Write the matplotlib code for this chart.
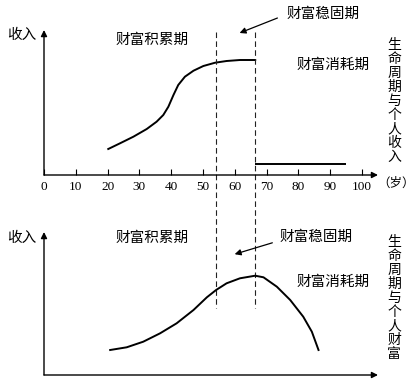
import matplotlib
matplotlib.use("Agg")
import matplotlib.pyplot as plt
from matplotlib.patches import FancyArrowPatch

plt.rcParams["font.family"] = ["Noto Sans CJK SC", "DejaVu Sans"]

# top panel: income over the life cycle
income_age = [20.2, 23.9, 28.1, 32.3, 35.4, 37.5, 39.1, 40.7, 42.2, 44.3,
              47.0, 50.1, 53.8, 57.4, 61.6, 66.4]
income_val = [26, 31.7, 38.3, 46, 53.3, 60, 68.3, 80, 90, 98.3,
              104.3, 109, 112.3, 114, 115, 115]
pension_age = [66.4, 95]
pension_val = [10.7, 10.7]

# bottom panel: wealth over the life cycle
wealth_age = [20.8, 26.0, 31.2, 36.5, 41.7, 47.0, 51.2, 54.1, 57.4, 61.6,
              66.4, 69.0, 73.2, 77.4, 81.5, 84.2, 86.3]
wealth_val = [25, 27.7, 33.3, 41.7, 51.7, 65, 77.7, 85, 91.7, 96.7,
              99.3, 97.7, 88.3, 75, 58.3, 43.3, 25]

phase_bounds = [54, 66.4]
age_ticks = list(range(0, 101, 10))

W, H = 415, 385
fig = plt.figure(figsize=(W / 100, H / 100), dpi=100)


def px(x, y):
    return x / W, 1 - y / H


def make_axes(x0, y_axis, y_top, ymax):
    ax = fig.add_axes([x0 / W, (H - y_axis) / H, 334 / W, (y_axis - y_top) / H])
    ax.set_xlim(0, 105)
    ax.set_ylim(0, ymax)
    ax.patch.set_visible(False)
    for s in ax.spines.values():
        s.set_visible(False)
    ax.set_yticks([])
    arrow = dict(arrowstyle="-|>", lw=1.0, color="black", mutation_scale=9,
                 shrinkA=0, shrinkB=0)
    ax.annotate("", xy=(1, 0), xytext=(0, 0), xycoords="axes fraction",
                arrowprops=arrow, annotation_clip=False)
    ax.annotate("", xy=(0, 1), xytext=(0, 0), xycoords="axes fraction",
                arrowprops=arrow, annotation_clip=False)
    return ax


ax1 = make_axes(44, 175, 30, 145)
ax2 = make_axes(44, 375, 232, 143)

ax1.plot(income_age, income_val, color="black", lw=1.4, solid_joinstyle="round")
ax1.plot(pension_age, pension_val, color="black", lw=1.4, solid_capstyle="butt")
ax2.plot(wealth_age, wealth_val, color="black", lw=1.4, solid_joinstyle="round")

ax1.set_xticks(age_ticks)
ax1.set_xticklabels([str(t) for t in age_ticks], family="Liberation Serif",
                    fontsize=9.5)
ax1.tick_params(axis="x", direction="in", length=4, width=0.8, pad=4)
ax2.set_xticks([])

for b in phase_bounds:
    ax1.plot([b, b], [143, -133], color="#222222", lw=0.8,
             linestyle=(0, (5, 3)), clip_on=False)

fs = 10.5
# top panel labels
fig.text(*px(22, 35), "收入", fontsize=fs, ha="center", va="center")
fig.text(*px(152, 40), "财富积累期", fontsize=fs, ha="center", va="center")
fig.text(*px(323, 14), "财富稳固期", fontsize=fs, ha="center", va="center")
fig.text(*px(333, 65), "财富消耗期", fontsize=fs, ha="center", va="center")
fig.text(*px(394, 101), "\n".join("生命周期与个人收入"), fontsize=10,
         ha="center", va="center", linespacing=1.0)
fig.text(*px(396, 183), "（岁）", fontsize=9, ha="center", va="center")
fig.add_artist(FancyArrowPatch(
    px(280, 17), px(237, 34), transform=fig.transFigure,
    arrowstyle="-|>", mutation_scale=9, lw=0.9, color="black"))

# bottom panel labels
fig.text(*px(22, 238), "收入", fontsize=fs, ha="center", va="center")
fig.text(*px(152, 238), "财富积累期", fontsize=fs, ha="center", va="center")
fig.text(*px(316, 237), "财富稳固期", fontsize=fs, ha="center", va="center")
fig.text(*px(333, 282), "财富消耗期", fontsize=fs, ha="center", va="center")
fig.text(*px(394, 298), "\n".join("生命周期与个人财富"), fontsize=10,
         ha="center", va="center", linespacing=1.0)
fig.add_artist(FancyArrowPatch(
    px(275, 242), px(232, 255), transform=fig.transFigure,
    arrowstyle="-|>", mutation_scale=9, lw=0.9, color="black"))

fig.savefig("out.png", dpi=100)
